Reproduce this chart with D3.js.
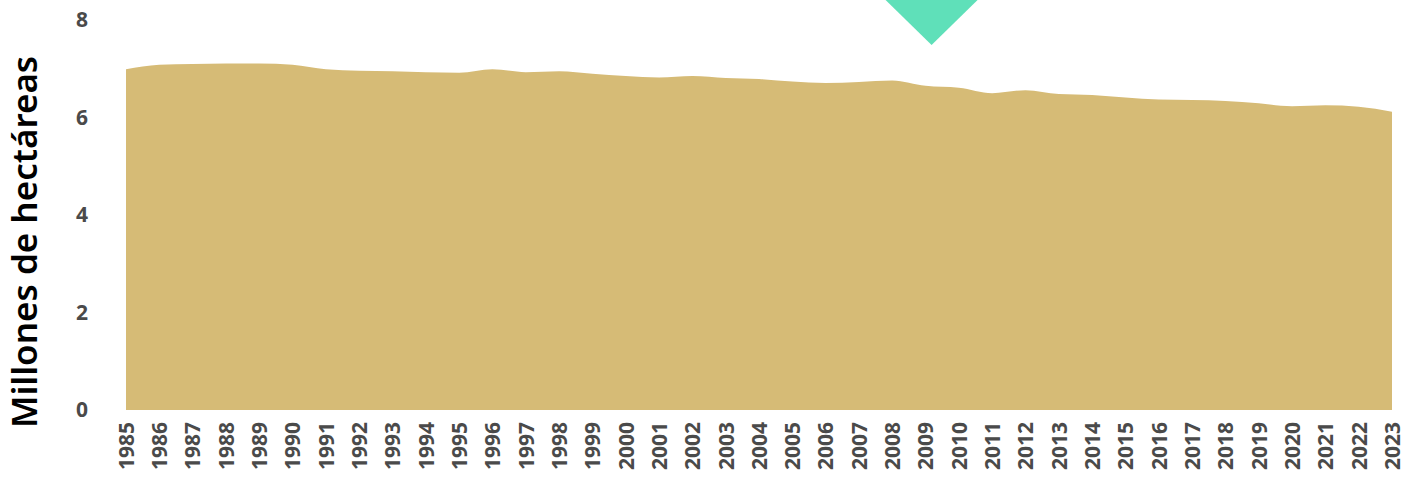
<!DOCTYPE html>
<html>
<head>
<meta charset="utf-8">
<script src="https://cdn.jsdelivr.net/npm/d3@7"></script>
<style>
  body { margin: 0; background: #fff; }
  svg { display: block; }
</style>
</head>
<body>
<svg class="chart"></svg>
<script>
// years and area (millions of hectares)
var years = d3.range(1985, 2024)
var values = [6.99, 7.08, 7.10, 7.11, 7.11, 7.08, 6.99, 6.96, 6.95, 6.93,
              6.92, 6.99, 6.93, 6.95, 6.90, 6.85, 6.82, 6.85, 6.81, 6.79,
              6.74, 6.71, 6.73, 6.76, 6.65, 6.61, 6.50, 6.56, 6.48, 6.46,
              6.41, 6.37, 6.36, 6.34, 6.29, 6.23, 6.25, 6.22, 6.12]
var yTicks = [0, 2, 4, 6, 8]
var markerYear = 2009

let svgWidth = 1405
let svgHeight = 484

var data = years.map(function(y, i) { return {year: y, value: values[i]} })

var chart = d3.select(".chart")
    .attr("width", svgWidth)
    .attr("height", svgHeight)

var xScale = d3.scaleLinear().domain([1985, 2023]).range([126, 1392])
var yScale = d3.scaleLinear().domain([0, 8]).range([410, 20])

// the area
var area = d3.area()
    .curve(d3.curveMonotoneX)
    .x(function(d) { return xScale(d.year) })
    .y0(yScale(0))
    .y1(function(d) { return yScale(d.value) })

chart.append("path")
    .datum(data)
    .attr("fill", "#d6bb76")
    .attr("d", area)

// y axis labels
var yAxis = d3.axisLeft(yScale).tickValues(yTicks).tickSize(0).tickPadding(0)
var gy = chart.append("g")
    .attr("transform", "translate(88,0)")
    .call(yAxis)
gy.select(".domain").remove()
gy.selectAll("text")
    .attr("fill", "#4a4a4a")
    .style("font-family", "'Open Sans', sans-serif")
    .style("font-weight", "bold")
    .style("font-size", "21px")

// x axis labels, rotated
var xAxis = d3.axisBottom(xScale).tickValues(years).tickFormat(d3.format("d")).tickSize(0)
var gx = chart.append("g")
    .attr("transform", "translate(0,422)")
    .call(xAxis)
gx.select(".domain").remove()
gx.selectAll("text")
    .attr("fill", "#4a4a4a")
    .style("font-family", "'Open Sans', sans-serif")
    .style("font-weight", "bold")
    .style("font-size", "21px")
    .attr("text-anchor", "end")
    .attr("transform", "rotate(-90)")
    .attr("x", 0)
    .attr("y", 0)
    .attr("dy", "0.35em")

// y axis title
chart.append("text")
    .attr("transform", "translate(37,242) rotate(-90)")
    .attr("text-anchor", "middle")
    .attr("fill", "#000")
    .style("font-family", "'Noto Sans', sans-serif")
    .style("font-weight", "600")
    .style("font-size", "35px")
    .text("Millones de hectáreas")

// teal marker pointing down at the top
var mx = xScale(markerYear) + 6
chart.append("path")
    .attr("fill", "#5fe0b9")
    .attr("d", "M" + (mx - 46) + ",0 L" + (mx + 46) + ",0 L" + mx + ",45 Z")
</script>
</body>
</html>
